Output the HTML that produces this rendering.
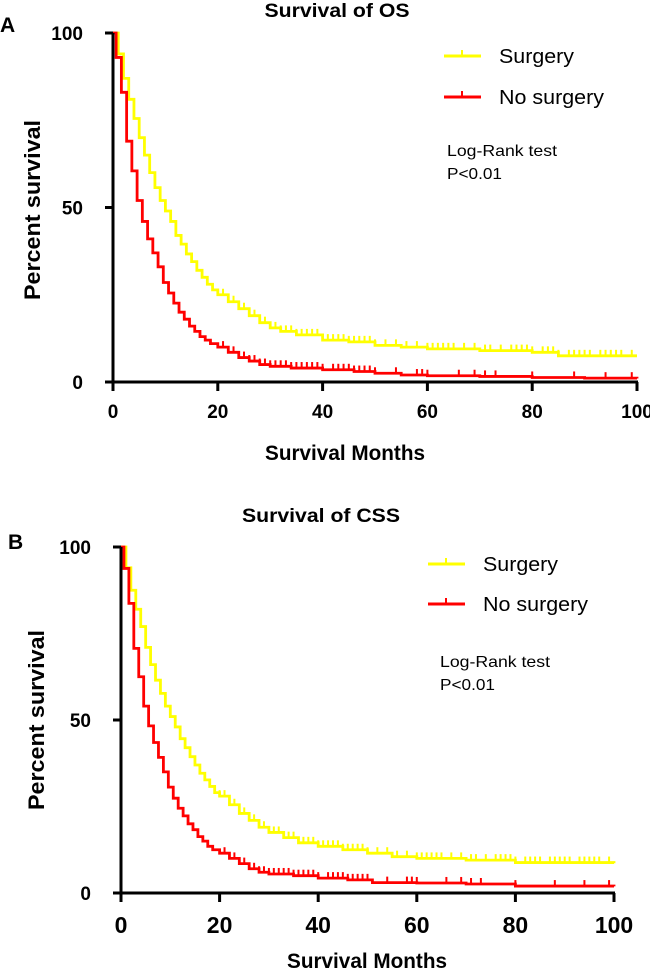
<!DOCTYPE html>
<html><head><meta charset="utf-8"><style>
body{margin:0;background:#fff;}
svg text{font-family:"Liberation Sans",Arial,sans-serif;}
</style></head><body>
<svg id="chart" width="650" height="970" xmlns="http://www.w3.org/2000/svg">
<g id="panelA"></g>
<g id="panelB"></g>
</svg>
<script>
// Panel A (OS) data: [month, percent]
const osSurgery = [[0,100],[1,94],[2,87],[3,81],[4,75.5],[5,70],[6,65],[7,60],[8,55.7],[9,52],[10,49],[11,46],[12,42],[13,39.5],[14,36.7],[15,34.5],[16,32],[17,30],[18,28],[19,26.4],[20,25],[22,23],[24,21],[26,19],[28,17],[30,15.5],[32,14.5],[35,13.5],[40,12],[45,11.5],[50,10.5],[55,10],[60,9.5],[70,9],[80,8.5],[85,7.5],[100,7.5]];
const osNoSurgery = [[0,100],[0.6,93],[1.6,83],[2.6,69],[3.6,60.5],[4.6,52],[5.6,46],[6.6,41],[7.6,37],[8.6,33],[9.6,28.5],[10.6,25.5],[11.6,22.6],[12.6,20],[13.6,18],[14.6,16],[15.6,14.5],[16.6,13],[17.6,12],[18.6,11],[20,10],[22,8.5],[24,7],[26,6],[28,5],[30,4.5],[34,4],[40,3.5],[46,3],[50,2.5],[55,2],[60,1.8],[70,1.6],[80,1.3],[90,1.1],[100,1]];
// Panel B (CSS) data
const cssSurgery = [[0,100],[1,94],[2,87.5],[3,82],[4,77],[5,71],[6,66],[7,61.5],[8,57.7],[9,54],[10,51],[11,48],[12,44.6],[13,42],[14,39.4],[15,37],[16,34.6],[17,32.7],[18,30.8],[19,29],[20,28],[22,25.5],[24,23],[26,21],[28,19],[30,17.5],[33,16],[36,14.5],[40,13.5],[45,12.5],[50,11.5],[55,10.5],[60,10],[70,9.5],[80,8.8],[100,8.6]];
const cssNoSurgery = [[0,100],[0.6,93.8],[1.6,83.7],[2.6,70.7],[3.6,62.5],[4.6,54],[5.6,48.3],[6.6,43.5],[7.6,39.2],[8.6,35],[9.6,30.6],[10.6,27.4],[11.6,24.5],[12.6,22.3],[13.6,20],[14.6,18.3],[15.6,16.3],[16.6,15],[17.6,13.5],[18.6,12.5],[20,11.5],[22,10],[24,8.5],[26,7],[28,6],[30,5.5],[35,5],[40,4.3],[46,3.8],[51,3],[60,2.9],[70,2.6],[80,2],[100,1.9]];
// censor tick months
const censorSurgery = [20,21,22,23,24,25,26,27,28,29,30,31,32,33,34,35,36,37,38,39,40,41,42,43,44,45,46,47,48,49,50,52,54,56,58,60,61,62,63,64,65,67,69,71,72,74,76,77,78,79,80,82,83,84,85,87,88,89,90,91,93,94,95,96,97,99];
const censorNoSurgery = [21,22,23,24,25,26,27,28,29,30,31,32,33,34,35,36,37,38,39,40,42,43,44,45,46,47,48,49,50,54,58,59,60,66,69,71,73,80,88,94,99];
const xTicks = [0,20,40,60,80,100];
const yTicks = [0,50,100];

const NS='http://www.w3.org/2000/svg';
function mk(parent,tag,attrs,text){const e=document.createElementNS(NS,tag);for(const k in attrs)e.setAttribute(k,attrs[k]);if(text!==undefined)e.textContent=text;parent.appendChild(e);return e;}
function valueAt(series,t){let v=series[0][1];for(const p of series){if(p[0]<=t)v=p[1];}return v;}

function panel(g,cfg,sur,nos){
  const sx=m=>cfg.x0+(cfg.x1-cfg.x0)*m/100;
  const sy=v=>cfg.y0+(cfg.y1-cfg.y0)*v/100;
  const lab=mk(g,'text',{x:cfg.lx,y:cfg.ly,'font-size':21,'font-weight':'bold'},cfg.letter);
  
  
  const ti=mk(g,'text',{x:cfg.tx,y:cfg.ty,'font-size':19,'font-weight':'bold','text-anchor':'middle',textLength:cfg.tw,lengthAdjust:'spacingAndGlyphs'},cfg.title);
  
  
  function drawSeries(data,color,cens,name){
    let d='M'+sx(data[0][0])+','+sy(data[0][1]);
    for(let i=1;i<data.length;i++){d+=' H'+sx(data[i][0])+' V'+sy(data[i][1]);}
    const p=mk(g,'path',{d:d,fill:'none',stroke:color,'stroke-width':2.8});
    
    
    for(const c of cens){
      const yy=sy(valueAt(data,c));
      const t=mk(g,'line',{x1:sx(c),x2:sx(c),y1:yy,y2:yy-6,stroke:color,'stroke-width':2});
      
      
    }
  }
  drawSeries(sur,'#ffff00',censorSurgery,'surgery');
  drawSeries(nos,'#ff0000',censorNoSurgery,'no-surgery');
  const ya=mk(g,'line',{x1:cfg.x0,x2:cfg.x0,y1:sy(100),y2:cfg.y0+1.5,stroke:'#000','stroke-width':3});
  
  
  const xa=mk(g,'line',{x1:cfg.x0-8,x2:cfg.x1+1,y1:cfg.y0,y2:cfg.y0,stroke:'#000','stroke-width':3});
  
  
  for(const v of yTicks){
    mk(g,'line',{x1:cfg.x0-8,x2:cfg.x0,y1:sy(v),y2:sy(v),stroke:'#000','stroke-width':3});
    const t=mk(g,'text',{x:cfg.x0-cfg.ylabOff,y:sy(v)+7,'font-size':19,'font-weight':'bold','text-anchor':'end'},String(v));
    
    
  }
  for(const v of xTicks){
    mk(g,'line',{x1:sx(v),x2:sx(v),y1:cfg.y0,y2:cfg.y0+9,stroke:'#000','stroke-width':3});
    const t=mk(g,'text',{x:sx(v),y:cfg.y0+cfg.xlabOff,'font-size':cfg.xfs,'font-weight':'bold','text-anchor':'middle'},String(v));
    
    
  }
  const xt=mk(g,'text',{x:cfg.xtx,y:cfg.xty,'font-size':21,'font-weight':'bold','text-anchor':'middle',textLength:160,lengthAdjust:'spacingAndGlyphs'},'Survival Months');
  
  
  const yt=mk(g,'text',{x:0,y:0,'font-size':22,'font-weight':'bold','text-anchor':'middle',textLength:180,lengthAdjust:'spacingAndGlyphs',transform:'translate('+cfg.ytx+','+cfg.yty+') rotate(-90)'},'Percent  survival');
  
  
  const lg=mk(g,'g',{});
  
  
  const items=[['Surgery','#ffff00',cfg.lgy1,75],['No surgery','#ff0000',cfg.lgy2,105]];
  for(const it of items){
    const e=mk(lg,'g',{});
    
    
    mk(e,'line',{x1:cfg.lgx,x2:cfg.lgx+37,y1:it[2],y2:it[2],stroke:it[1],'stroke-width':3});
    mk(e,'line',{x1:cfg.lgx+18,x2:cfg.lgx+18,y1:it[2],y2:it[2]-6,stroke:it[1],'stroke-width':2});
    mk(e,'text',{x:cfg.lgx+55,y:it[2]+7,'font-size':20,textLength:it[3],lengthAdjust:'spacingAndGlyphs'},it[0]);
  }
  const lr=mk(g,'text',{x:cfg.lrx,y:cfg.lry,'font-size':16,textLength:110,lengthAdjust:'spacingAndGlyphs'},'Log-Rank test');
  
  
  const pv=mk(g,'text',{x:cfg.lrx,y:cfg.lry+23,'font-size':16,textLength:55,lengthAdjust:'spacingAndGlyphs'},'P<0.01');
  
  
}
panel(document.getElementById('panelA'),{x0:113,x1:637,y0:382,y1:33,letter:'A',lx:0,ly:32,title:'Survival of OS',tx:337,ty:17,tw:145,ylabOff:30,xlabOff:36,xfs:19,xtx:345,xty:460,ytx:40,yty:210,lgx:444,lgy1:56,lgy2:97,lrx:447,lry:156},osSurgery,osNoSurgery);
panel(document.getElementById('panelB'),{x0:121,x1:614,y0:893,y1:547,letter:'B',lx:8,ly:549,title:'Survival of CSS',tx:321,ty:522,tw:158,ylabOff:30,xlabOff:40,xfs:23,xtx:367,xty:968,ytx:44,yty:720,lgx:428,lgy1:564,lgy2:604,lrx:440,lry:667},cssSurgery,cssNoSurgery);
</script>
</body></html>
